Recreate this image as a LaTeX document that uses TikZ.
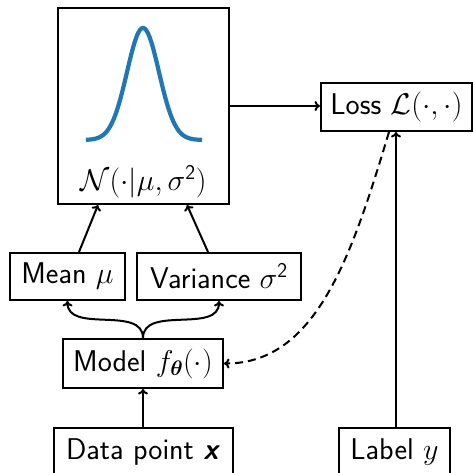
\RequirePackage{fix-cm}
\documentclass[tikz,border=0pt]{standalone}
\usepackage{amsmath}
\usepackage{fontspec}
\usetikzlibrary{arrows.meta,calc}
\definecolor{gblue}{HTML}{1F77B4}
\newcommand{\sfn}[1]{\mathchoice{\text{\sffamily#1}}{\text{\sffamily#1}}{\text{\sffamily#1}}{\text{\sffamily#1}}}
\begin{document}
\begin{tikzpicture}[x=1pt,y=1pt,
  font=\sffamily\fontsize{30}{34}\selectfont,
  box/.style={draw,line width=2pt,inner sep=0pt,align=center},
  conn/.style={line width=2pt,-{To[length=5.5pt,width=10pt]}},
  dconn/.style={conn,dash pattern=on 8pt off 5pt}]
\useasboundingbox (0,0) rectangle (473,472);
\node[box,minimum width=171pt,minimum height=196pt] (gauss) at (143.5,366) {};
\draw[gblue,line width=4.2pt,domain=86:202,samples=120,smooth]
  plot (\x,{332+112*exp(-((\x-143)^2)/(2*16^2))});
\node (nlab) at (143.5,290) {$\mathcal{N}(\cdot|\mu,\sigma^{\sfn{2}})$};
\node[box,minimum width=151pt,minimum height=48pt] (loss) at (396.5,365) {Loss $\mathcal{L}(\cdot,\cdot)$};
\node[box,minimum width=115pt,minimum height=47pt] (mean) at (67.5,195.5) {Mean $\mu$};
\node[box,minimum width=164pt,minimum height=47pt] (var) at (219,195.5) {Variance $\sigma^{\sfn{2}}$};
\node[box,minimum width=160pt,minimum height=49pt] (model) at (143,108.5) {Model $f_{\boldsymbol{\theta}}(\cdot)$};
\node[box,minimum width=179pt,minimum height=48pt] (data) at (143,20) {Data point \textbf{\textit{x}}};
\node[box,minimum width=111pt,minimum height=48pt] (label) at (394.5,20) {Label $y$};
\draw[conn] (gauss.east) -- (gauss.east -| loss.west);
\draw[conn] ([xshift=1.5pt]label.north) -- ([xshift=1.5pt]label.north |- loss.south);
\draw[conn] (data.north) -- (model.south);
\draw[conn] ([xshift=11.5pt]mean.north) -- ([xshift=-45.5pt]gauss.south);
\draw[conn] ([xshift=-11pt]var.north) -- ([xshift=43.5pt]gauss.south);
\draw[conn] (model.north) to[out=90,in=-90] (mean.south);
\draw[conn] (model.north) to[out=90,in=-90] (var.south);
\draw[dconn] ([xshift=-7.5pt]loss.south) .. controls +(-37,-123) and ($(model.east)+(92.5,0)$) .. (model.east);
\end{tikzpicture}
\end{document}
